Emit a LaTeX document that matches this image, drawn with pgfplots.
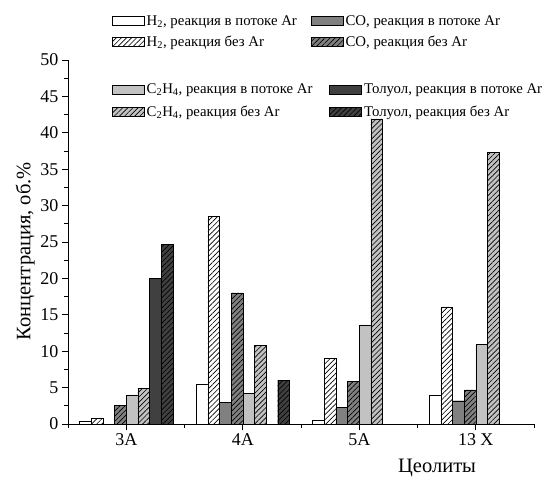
\documentclass[border=0pt]{standalone}
\usepackage{pgfplots}
\pgfplotsset{compat=1.18}
\usepackage{fontspec}
\setmainfont{Liberation Serif}
\usetikzlibrary{patterns.meta}
\definecolor{cCO}{gray}{0.5}
\definecolor{cCH}{gray}{0.76}
\definecolor{cTol}{gray}{0.25}
\pgfplotsset{
  barbox/.style={legend image code/.code={\draw[##1,line width=0.7pt] (0pt,-4.5pt) rectangle (32pt,4.5pt);}},
  hatch/.style={postaction={pattern={Lines[angle=45,distance=3.6pt,line width=0.65pt]}}},
}
\begin{document}
\begin{tikzpicture}
\path[use as bounding box] (-68pt,-56pt) rectangle (485pt,424pt);
\begin{axis}[
  scale only axis, width=466pt, height=364pt,
  xmin=-0.5, xmax=3.5, ymin=0, ymax=50,
  axis x line*=bottom, axis y line*=left,
  axis line style={line width=0.9pt},
  xtick={0,1,2,3}, xticklabels={3A,4A,5A,13 X},
  minor xtick={-0.5,0.5,1.5,2.5,3.5},
  ytick={0,5,...,50}, minor y tick num=1,
  tick align=outside,
  major tick length=6pt, minor tick length=4pt,
  every tick/.style={black, line width=0.9pt},
  /pgf/number format/assume math mode=true,
  ticklabel style={font=\fontsize{18}{18}\selectfont},
  xlabel={Цеолиты}, ylabel={Концентрация, об.\%},
  label style={font=\fontsize{20.5}{20.5}\selectfont},
  x label style={at={(axis description cs:0.792,-0.12)}, anchor=center},
  y label style={at={(axis description cs:-0.092,0.475)}, anchor=center},
  ybar, bar width=0.1,
  barbox,
  legend columns=2, transpose legend,
  legend cell align=left,
  legend style={draw=none, fill=none, inner sep=0pt,
    at={(axis description cs:0.094,1.128)}, anchor=north west,
    font=\fontsize{14.8}{14.8}\selectfont, row sep=5pt,
    /tikz/every even column/.append style={column sep=12pt}},
]
\addplot[draw=black, fill=white, bar shift=-0.35] coordinates {(0,0.45) (1,5.4) (2,0.5) (3,4.0)};
\addlegendentry{H\textsubscript{2}, реакция в потоке Ar}
\addplot[draw=black, fill=white, hatch, bar shift=-0.25] coordinates {(0,0.8) (1,28.5) (2,9.0) (3,16.1)};
\addlegendentry{H\textsubscript{2}, реакция без Ar}
\addplot[draw=black, fill=cCO, bar shift=-0.15] coordinates {(1,3.0) (2,2.25) (3,3.2)};
\addlegendentry{CO, реакция в потоке Ar}
\addplot[draw=black, fill=cCO, hatch, bar shift=-0.05] coordinates {(0,2.6) (1,18.0) (2,5.85) (3,4.7)};
\addlegendentry{CO, реакция без Ar}
\addplot[draw=black, fill=cCH, bar shift=0.05, forget plot] coordinates {(0,4.0) (1,4.2) (2,13.6) (3,10.95)};
\addplot[draw=black, fill=cCH, hatch, bar shift=0.15, forget plot] coordinates {(0,4.9) (1,10.85) (2,41.9) (3,37.3)};
\addplot[draw=black, fill=cTol, bar shift=0.25, forget plot] coordinates {(0,20.0)};
\addplot[draw=black, fill=cTol, hatch, bar shift=0.35, forget plot] coordinates {(0,24.7) (1,6.0)};
\end{axis}
\begin{axis}[
  scale only axis, width=466pt, height=364pt,
  hide axis, xmin=0, xmax=1, ymin=0, ymax=1,
  barbox,
  legend columns=2, transpose legend,
  legend cell align=left,
  legend style={draw=none, fill=none, inner sep=0pt,
    at={(axis description cs:0.094,0.94)}, anchor=north west,
    font=\fontsize{14.8}{14.8}\selectfont, row sep=6.5pt,
    /tikz/every even column/.append style={column sep=15pt}},
]
\addlegendimage{draw=black, fill=cCH}
\addlegendentry{C\textsubscript{2}H\textsubscript{4}, реакция в потоке Ar}
\addlegendimage{draw=black, fill=cCH, hatch}
\addlegendentry{C\textsubscript{2}H\textsubscript{4}, реакция без Ar}
\addlegendimage{draw=black, fill=cTol}
\addlegendentry{Толуол, реакция в потоке Ar}
\addlegendimage{draw=black, fill=cTol, hatch}
\addlegendentry{Толуол, реакция без Ar}
\end{axis}
\end{tikzpicture}
\end{document}
